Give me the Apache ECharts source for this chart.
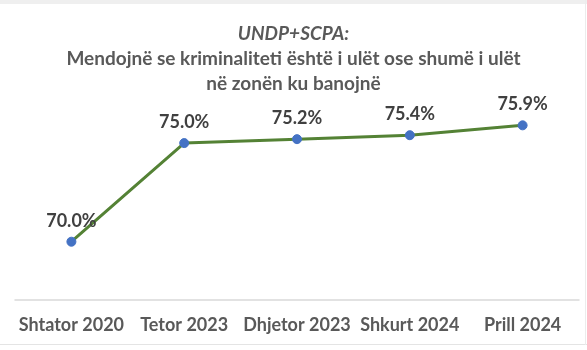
<!DOCTYPE html>
<html>
<head>
<meta charset="utf-8">
<script src="https://cdn.jsdelivr.net/npm/echarts@6/dist/echarts.min.js"></script>
<style>
html,body{margin:0;padding:0;background:#fff;}
#wrap{position:relative;width:587px;height:350px;overflow:hidden;}
#chart{width:587px;height:350px;}
#topstrip{position:absolute;left:0;top:0;width:587px;height:4px;background:#efefef;}
#botline{position:absolute;left:0;top:344px;width:587px;height:1px;background:#e4e4e4;}
#rightline{position:absolute;left:585px;top:0;width:1px;height:345px;background:#ececec;}
</style>
</head>
<body>
<div id="wrap">
<div id="chart"></div>
<div id="topstrip"></div>
<div id="botline"></div>
<div id="rightline"></div>
</div>
<script>
const categories = ["Shtator 2020", "Tetor 2023", "Dhjetor 2023", "Shkurt 2024", "Prill 2024"];
const values = [70.0, 75.0, 75.2, 75.4, 75.9];
const titleLine1 = "UNDP+SCPA:";
const titleLine2 = "Mendojnë se kriminaliteti është i ulët ose shumë i ulët";
const titleLine3 = "në zonën ku banojnë";

const chart = echarts.init(document.getElementById('chart'), null, {renderer: 'canvas'});
const font = 'Lato, "Open Sans", sans-serif';
chart.setOption({
  animation: false,
  backgroundColor: '#ffffff',
  title: {
    left: 'center',
    top: 16,
    text: '{i|' + titleLine1 + '}\n{b|' + titleLine2 + '}\n{b|' + titleLine3 + '}',
    textStyle: {
      rich: {
        i: {fontFamily: font, fontStyle: 'italic', fontWeight: 'bold', fontSize: 19, color: '#595959', lineHeight: 25, align: 'center'},
        b: {fontFamily: font, fontWeight: 'bold', fontSize: 19, color: '#595959', lineHeight: 25, align: 'center'}
      }
    }
  },
  grid: {left: 15, right: 8, top: 78, bottom: 50.5},
  xAxis: {
    type: 'category', data: categories, boundaryGap: true,
    axisLine: {show: true, lineStyle: {color: '#d9d9d9', width: 1.5}},
    axisTick: {show: false}, splitLine: {show: false},
    axisLabel: {show: true, interval: 0, margin: 17, color: '#595959', fontFamily: font, fontWeight: 'bold', fontSize: 18}
  },
  yAxis: {type: 'value', min: 67.07, max: 78.3, show: false},
  series: [{
    type: 'line',
    data: values,
    symbol: 'circle',
    symbolSize: 9,
    lineStyle: {color: '#548235', width: 3},
    itemStyle: {color: '#4472c4', borderColor: '#4472c4'},
    label: {
      show: true, position: 'top', distance: 7,
      formatter: p => p.value.toFixed(1) + '%',
      color: '#404040', fontFamily: font, fontWeight: 'bold', fontSize: 18
    },
    z: 3
  }]
});
</script>
</body>
</html>
